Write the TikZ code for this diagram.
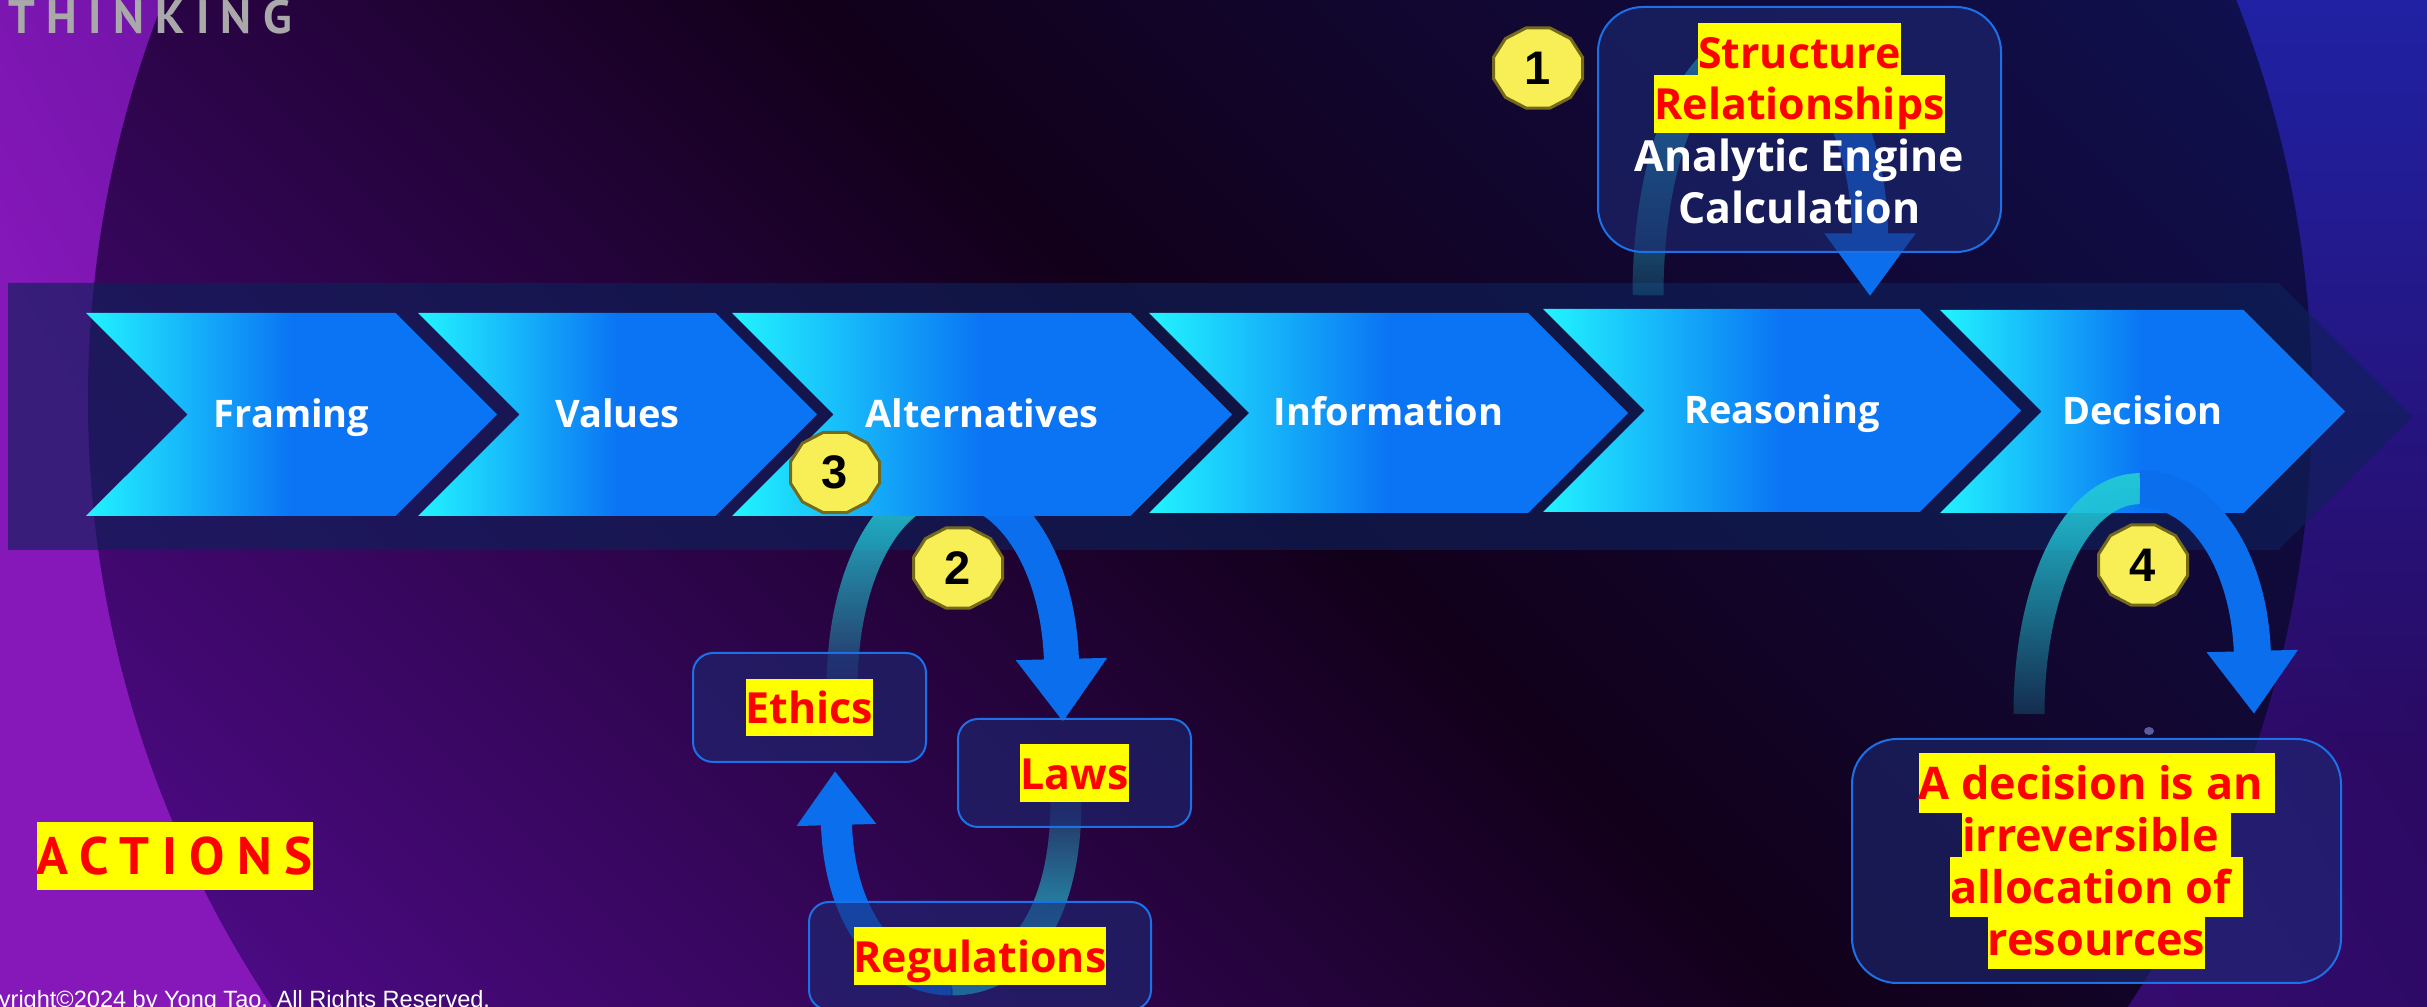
\documentclass[tikz,border=0pt]{standalone}
\usepackage{fontspec}
\setmainfont{Open Sans}
\newfontfamily\badgefont{Liberation Sans}
\newfontfamily\spacedfont[LetterSpace=24]{PT Sans}
\newfontfamily\notefont{Liberation Sans}
\usetikzlibrary{positioning,shapes,shapes.symbols,shapes.geometric,arrows.meta,calc,fadings}
\pgfdeclarelayer{bg}
\pgfdeclarelayer{back}
\pgfsetlayers{bg,back,main}
\setlength{\lineskiplimit}{-5cm}

\definecolor{outerpurple}{HTML}{8618BA}
\definecolor{outermid}{HTML}{440C80}
\definecolor{outerright}{HTML}{2A0A62}
\definecolor{outerblue}{HTML}{2022A4}
\definecolor{innerpurple}{HTML}{4C0A84}
\definecolor{innerdark}{HTML}{12001A}
\definecolor{innerblue}{HTML}{0F1152}
\definecolor{trackblue}{RGB}{15,32,89}
\definecolor{stagecyan}{HTML}{22F4FF}
\definecolor{stageblue}{HTML}{0A74F4}
\definecolor{panelfill}{RGB}{29,41,115}
\definecolor{panelline}{HTML}{1C70E8}
\definecolor{tailcyan}{HTML}{22C6D6}
\definecolor{headblue}{HTML}{0B6EEC}
\definecolor{badgefill}{HTML}{F8EE55}
\definecolor{badgeline}{HTML}{75691C}
\definecolor{hlyellow}{HTML}{FFFF00}
\definecolor{hlred}{HTML}{FF0000}
\definecolor{thinkgray}{HTML}{A9A9A9}
\definecolor{dotgray}{HTML}{5A5C9E}

\tikzfading[name=fadebottom, top color=transparent!0, bottom color=transparent!85]
\tikzfading[name=fadetop, top color=transparent!85, bottom color=transparent!0]
\tikzfading[name=glowdown, top color=transparent!0, bottom color=transparent!100]

\newcommand\hlstrut{\rule[-0.3em]{0pt}{1.35em}}
\newcommand\hl[1]{{\setlength{\fboxsep}{0pt}\colorbox{hlyellow}{\color{hlred}\hlstrut#1}}}
\newcommand\badgenum[1]{\scalebox{0.9}[1]{#1}}

\tikzstyle{stage}=[signal, signal from=west, signal to=east, signal pointer angle=90, inner sep=0pt, text height=0.72em, text depth=0pt, left color=stagecyan, right color=stageblue, middle color=stageblue, text=white, font=\bfseries\fontsize{10.8pt}{13pt}\selectfont]
\tikzstyle{track}=[signal, signal to=east, signal pointer angle=90, inner sep=0pt, fill=trackblue, fill opacity=0.65, minimum width=240.4mm, minimum height=26.7mm]
\tikzstyle{panel}=[rectangle, rounded corners=2mm, draw=panelline, line width=0.2mm, fill=panelfill, fill opacity=0.6, text opacity=1, inner sep=0pt, align=center, text=white, font=\bfseries\fontsize{12.2pt}{14.7pt}\selectfont]

\begin{document}
\begin{tikzpicture}[
        x=0.1mm, y=-0.1mm,
        tailleg/.style={line width=3.1mm, draw=tailcyan},
        headleg/.style={line width=3.6mm, draw=headblue, -{Triangle[length=6.3mm, width=8.7mm]}},
        badge/.style={regular polygon, regular polygon sides=12, minimum size=8.3mm, xscale=1.11, transform shape, fill=badgefill, draw=badgeline, line width=0.3mm, inner sep=0pt, text=black, font=\badgefont\bfseries\fontsize{13.4pt}{14pt}\selectfont},
      ]
      \useasboundingbox (0,0) rectangle (2427,1007);
      \begin{pgfonlayer}{bg}
        \shade [left color=outerpurple, right color=outerright, middle color=outermid, shading angle=120] (0,0) rectangle (2427,1007);
        \fill [outerblue, path fading=glowdown] (1900,0) rectangle (2427,760);
        \shade [left color=innerpurple, right color=innerblue, middle color=innerdark, shading angle=135] (1200,400) ellipse [x radius=1112, y radius=1100];
        \node (band) [track] at (1143.25,416.5) {};
      \end{pgfonlayer}

      \node (framing) [stage, minimum width=41.1mm, minimum height=20.3mm] at (291.5,414.5) {Framing};
      \node (values) [stage, minimum width=39.9mm, minimum height=20.3mm] at (617.5,414.5) {Values};
      \node (alternatives) [stage, minimum width=50mm, minimum height=20.3mm] at (982,414.5) {Alternatives};
      \node (information) [stage, minimum width=47.9mm, minimum height=20mm] at (1388.5,413) {Information};
      \node (reasoning) [stage, minimum width=47.8mm, minimum height=20.3mm] at (1782,410.5) {Reasoning};
      \node (decision) [stage, minimum width=40.5mm, minimum height=20.3mm] at (2142.5,411.5) {Decision};

      \node (engine) [panel, rounded corners=4.5mm, minimum width=40.3mm, minimum height=24.5mm] at (1799.5,129.5)
            {
              \hl{Structure}\\\hl{Relationships}\\Analytic Engine\hlstrut\\Calculation\hlstrut
            };
      \node (ethics) [panel, minimum width=23.3mm, minimum height=10.9mm] at (809.5,707.5) {\hl{Ethics}};
      \node (laws) [panel, minimum width=23.3mm, minimum height=10.8mm] at (1074.5,773) {\hl{Laws}};
      \node (regs) [panel, minimum width=34.2mm, minimum height=10.8mm] at (980,956) {\hl{Regulations}};
      \node (verdict) [panel, rounded corners=4.5mm, minimum width=48.9mm, minimum height=24.4mm, font=\bfseries\fontsize{12.8pt}{14.8pt}\selectfont] at (2096.5,861)
            {
              \hl{A decision is an\ }\\\hl{irreversible\ }\\\hl{allocation of\ }\\\hl{resources}
            };

      \begin{pgfonlayer}{back}
        \coordinate (a1tail) at ($(reasoning.north)+(-134,-13)$);
        \coordinate (a1top) at ($(engine.north)+(-41.5,38)$);
        \coordinate (a1tip) at ($(reasoning.north)+(88,-12)$);
        \draw [tailleg, path fading=fadebottom] (a1tail) .. controls +(0,-146) and +(-61,0) .. (a1top);
        \draw [headleg] (a1top) .. controls +(62,0) and +(0,-167) .. (a1tip);

        \coordinate (a2tail) at ($(ethics.north)+(32.5,37)$);
        \coordinate (a2top) at ($(alternatives.south)+(-32,-29)$);
        \coordinate (a2tip) at ($(laws.north)+(-11.5,4)$);
        \draw [tailleg, path fading=fadebottom] (a2tail) .. controls +(0,-117) and +(-60,0) .. (a2top);
        \draw [headleg, line width=3.5mm] (a2top) .. controls +(60,0) and +(-4,-160) .. (a2tip);

        \coordinate (a3tail) at ($(laws.south)+(-8.5,-27)$);
        \coordinate (a3bot) at ($(regs.center)+(-28,24)$);
        \coordinate (a3tip) at ($(ethics.south)+(25.5,8)$);
        \draw [tailleg, path fading=fadetop] (a3tail) .. controls +(0,120) and +(63,0) .. (a3bot);
        \draw [headleg, line width=3.1mm, -{Triangle[length=5.4mm, width=7.6mm]}] (a3bot) .. controls +(-63,0) and +(4,150) .. (a3tip);
      \end{pgfonlayer}

      \coordinate (a4tail) at ($(verdict.north)+(-67.5,-24)$);
      \coordinate (a4top) at ($(decision.south)+(-2.5,-25)$);
      \coordinate (a4tip) at ($(verdict.north)+(157.5,-24)$);
      \draw [tailleg, path fading=fadebottom] (a4tail) .. controls +(0,-125) and +(-65,0) .. (a4top);
      \draw [headleg, line width=3.7mm] (a4top) .. controls +(65,0) and +(-4,-150) .. (a4tip);
      \fill [dotgray] (2149,731) ellipse [x radius=5, y radius=4];

      \node (one) [badge] at (1538,68) {\badgenum{1}};
      \node (two) [badge] at (958,568) {\badgenum{2}};
      \node (three) [badge] at (835,472.5) {\badgenum{3}};
      \node (four) [badge] at (2143,565) {\badgenum{4}};

      \node (thinking) [anchor=base west, inner sep=0pt, text=thinkgray, font=\spacedfont\bfseries\fontsize{13.4pt}{14pt}\selectfont] at (8,34) {THINKING};
      \node (actions) [anchor=west, inner sep=0pt, minimum height=6.8mm, fill=hlyellow, text=hlred, font=\spacedfont\bfseries\fontsize{15pt}{16pt}\selectfont] at (36,856) {ACTIONS};
      \node (notice) [anchor=base west, inner sep=0pt, text=white, font=\notefont\fontsize{6.7pt}{8pt}\selectfont] at (-45,1008) {Copyright©2024 by Yong Tao. All Rights Reserved.};
    \end{tikzpicture}
\end{document}
